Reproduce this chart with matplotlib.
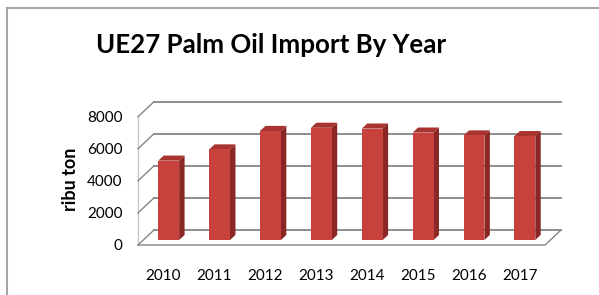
import matplotlib.pyplot as plt
from matplotlib.patches import Polygon, Rectangle

years = ['2010', '2011', '2012', '2013', '2014', '2015', '2016', '2017']
imports = [4950, 5650, 6800, 7000, 6950, 6700, 6520, 6480]
yticks = [0, 2000, 4000, 6000, 8000]

plt.rcParams['font.family'] = ['Lato', 'DejaVu Sans']

fig = plt.figure(figsize=(5.99, 2.95), dpi=100)
ax = fig.add_axes([138 / 599, 50 / 295, 423 / 599, 143.3 / 295])

# fake 3d: depth offset of the back wall in data units
dx, dy = 0.314, 936
n = len(years)
ax.set_xlim(-0.5, n - 0.5 + dx)
ax.set_ylim(0, yticks[-1] + dy)
for s in ax.spines.values():
    s.set_visible(False)

grid = '#868686'
# left wall + back wall gridlines
ax.plot([-0.5, -0.5], [0, yticks[-1]], color='#c8c8c8', lw=1, clip_on=False)
for v in yticks:
    ax.plot([-0.5, -0.5 + dx], [v, v + dy], color=grid, lw=1, clip_on=False)
    ax.plot([-0.5 + dx, n - 0.5 + dx], [v + dy, v + dy], color=grid, lw=1.3, clip_on=False)
# floor
ax.plot([-0.5, n - 0.5, n - 0.5 + dx], [0, 0, dy], color=grid, lw=1, clip_on=False)

# bars
w, f0, f1 = 0.41, 0.33, 0.67
ddx, ddy = (f1 - f0) * dx, (f1 - f0) * dy
for i, v in enumerate(imports):
    x0 = i - w / 2 + f0 * dx
    x1 = x0 + w
    y0 = f0 * dy
    yt = y0 + v
    ax.add_patch(Polygon([(x1, y0), (x1 + ddx, y0 + ddy), (x1 + ddx, yt + ddy), (x1, yt)],
                         closed=True, fc='#8a2623', ec='none', zorder=3))
    ax.add_patch(Polygon([(x0, yt), (x1, yt), (x1 + ddx, yt + ddy), (x0 + ddx, yt + ddy)],
                         closed=True, fc='#a8332f', ec='none', zorder=3))
    ax.add_patch(Rectangle((x0, y0), w, v, fc='#c8423d', ec='none', zorder=4))

ax.set_xticks(range(n))
ax.set_xticklabels(years, fontsize=11)
ax.set_yticks(yticks)
ax.set_yticklabels([str(t) for t in yticks], fontsize=11)
ax.tick_params(axis='x', length=0, pad=17)
ax.tick_params(axis='y', length=0, pad=11)

fig.text(271 / 599, 1 - 45 / 295, 'UE27 Palm Oil Import By Year', ha='center', va='center',
         fontsize=18.6, fontweight='bold')
fig.text(70 / 599, 1 - 179 / 295, 'ribu ton', ha='center', va='center', rotation=90,
         fontsize=13, fontweight='bold')

# outer frame of the chart area
fig.add_artist(Rectangle((7 / 599, -0.1), 1.0, (295 - 8) / 295 + 0.1, transform=fig.transFigure,
                         fill=False, ec='#a6a6a6', lw=1.5))

fig.savefig('out.png', dpi=100)
